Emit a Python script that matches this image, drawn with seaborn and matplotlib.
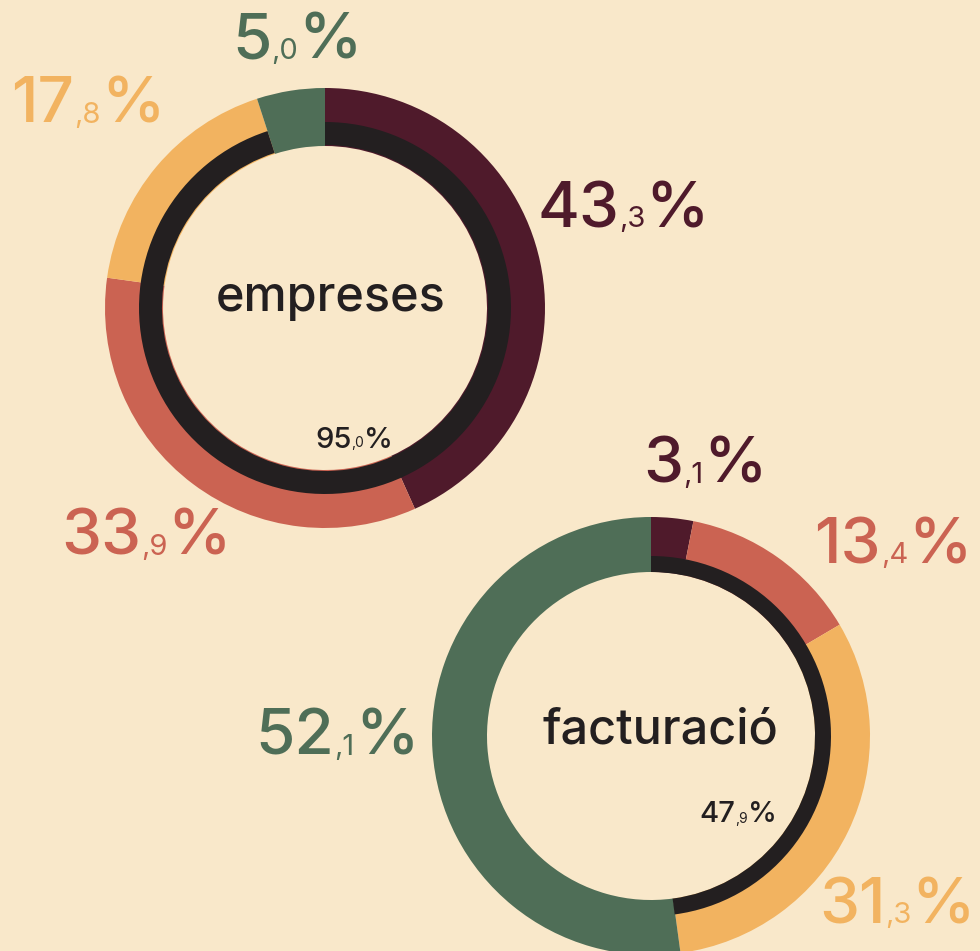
import matplotlib
matplotlib.use("Agg")
import matplotlib.pyplot as plt
from matplotlib.offsetbox import TextArea, HPacker, AnnotationBbox
import seaborn as sns

# shares (%) clockwise from 12 o'clock
empreses = [43.3, 33.9, 17.8, 5.0]
facturacio = [3.1, 13.4, 31.3, 52.1]
# dark inner arc
inner_share = [95.0, 47.9]
titles = ["empreses", "facturació"]

BG = "#f9e8ca"
DARK = "#231f20"
palette = sns.color_palette(["#4f1a2b", "#cb6352", "#f2b360", "#4f6e57"])

W, H = 980, 951

sns.set_theme(style="white")
plt.rcParams["font.family"] = ["Inter", "DejaVu Sans"]

fig = plt.figure(figsize=(W / 100, H / 100), dpi=100, facecolor=BG)
ax = fig.add_axes([0, 0, 1, 1])
ax.set_facecolor(BG)


def fy(y):
    return H - y


def pct_label(x, y, value, color, big=46, small=21):
    whole, dec = f"{value:.1f}".split(".")
    parts = [
        TextArea(whole, textprops=dict(color=color, fontsize=big, fontweight="medium")),
        TextArea("," + dec, textprops=dict(color=color, fontsize=small)),
        TextArea("%", textprops=dict(color=color, fontsize=big, fontweight="medium")),
    ]
    box = HPacker(children=parts, align="baseline", pad=0, sep=0)
    ab = AnnotationBbox(box, (x, fy(y)), frameon=False, box_alignment=(0.5, 0.5), pad=0)
    ax.add_artist(ab)


# layout for each donut: centre, outer ring, dark ring, label spots
donuts = [
    dict(vals=empreses, share=inner_share[0], title=titles[0],
         c=(325, 308), r=220, w=58, ir=186, iw=23,
         title_xy=(331, 298), share_xy=(354, 440),
         label_xy=[(623, 211), (146, 538), (88, 106), (297, 42)]),
    dict(vals=facturacio, share=inner_share[1], title=titles[1],
         c=(651, 736), r=219, w=55, ir=180, iw=16,
         title_xy=(660, 730), share_xy=(738, 815),
         label_xy=[(705, 466), (893, 547), (897, 907), (337, 738)]),
]

for d in donuts:
    cx, cy = d["c"]
    ax.pie(d["vals"], colors=palette, startangle=90, counterclock=False,
           center=(cx, fy(cy)), radius=d["r"],
           wedgeprops=dict(width=d["w"], linewidth=0))
    ax.pie([d["share"], 100 - d["share"]], colors=[DARK, "none"], startangle=90,
           counterclock=False, center=(cx, fy(cy)), radius=d["ir"],
           wedgeprops=dict(width=d["iw"], linewidth=0))
    tx, ty = d["title_xy"]
    ax.text(tx, fy(ty), d["title"], ha="center", va="center", fontsize=35,
            fontweight="medium", color=DARK)
    sx, sy = d["share_xy"]
    pct_label(sx, sy, d["share"], DARK, big=21, small=10)
    for (lx, ly), v, col in zip(d["label_xy"], d["vals"], palette):
        pct_label(lx, ly, v, col)

ax.set_xlim(0, W)
ax.set_ylim(0, H)
ax.set_aspect("equal")
ax.axis("off")

fig.savefig("out.png", dpi=100, facecolor=BG)
